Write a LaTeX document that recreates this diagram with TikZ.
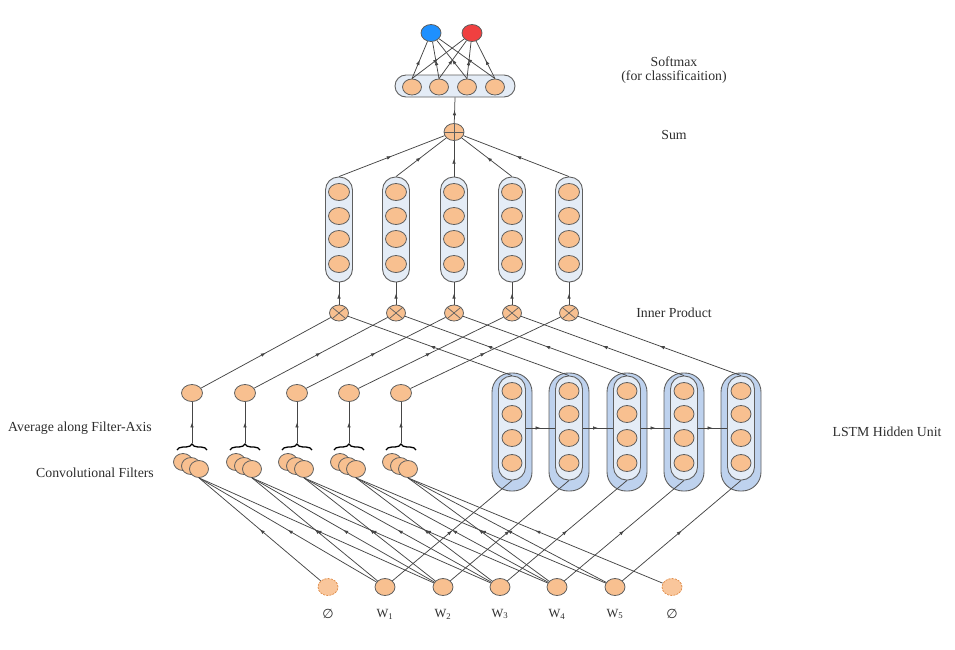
\documentclass[tikz,border=0pt]{standalone}
\usepackage{fontspec}
\setmainfont{Liberation Serif}
\newfontfamily\symfont{DejaVu Sans}
\usetikzlibrary{shapes.geometric,arrows.meta,decorations.markings,decorations.pathreplacing}

\definecolor{unitfill}{RGB}{248,192,144}
\definecolor{unitline}{RGB}{95,95,95}
\definecolor{emptyline}{RGB}{225,145,80}
\definecolor{pillfill}{RGB}{228,236,246}
\definecolor{lstmfill}{RGB}{190,210,238}
\definecolor{outblue}{RGB}{30,144,255}
\definecolor{outred}{RGB}{240,64,64}
\definecolor{linkgray}{RGB}{70,70,70}
\definecolor{labelgray}{RGB}{45,45,45}

\tikzset{
  unit/.style={ellipse,draw=unitline,fill=unitfill,line width=0.8pt,
    minimum width=20pt,minimum height=17pt,inner sep=0pt},
  emptyword/.style={draw=emptyline,dash pattern=on 2pt off 1.2pt,fill=unitfill!90},
  pill/.style={rectangle,draw=unitline,fill=pillfill,line width=0.9pt,inner sep=0pt},
  times/.style={path picture={\draw[unitline,line width=0.7pt]
    (path picture bounding box.north west) -- (path picture bounding box.south east)
    (path picture bounding box.north east) -- (path picture bounding box.south west);}},
  plus/.style={path picture={\draw[unitline,line width=0.7pt]
    (path picture bounding box.north) -- (path picture bounding box.south)
    (path picture bounding box.west) -- (path picture bounding box.east);}},
  curly/.style={decorate,decoration={brace,amplitude=6pt},line width=1.3pt},
  lbl/.style={text=labelgray,font=\fontsize{13.8}{14}\selectfont,inner sep=0pt},
  midarrow/.style={postaction={decorate},decoration={markings,
    mark=at position .5 with {\arrow{Latex[length=5pt,width=3.6pt]}}}}
}

\begin{document}
\begin{tikzpicture}[x=1pt,y=-1pt]

\useasboundingbox (0,0) rectangle (955,649);

% softmax layer and outputs
\node[pill,minimum width=120pt,minimum height=22pt,rounded corners=11pt] (smx) at (455,86) {};
\begin{scope}[every node/.style={unit,minimum width=19pt,minimum height=16pt}]
  \node (s1) at (412,87) {};
  \node (s2) at (439,87) {};
  \node (s3) at (467,87) {};
  \node (s4) at (495,87) {};
  \node[fill=outblue,minimum width=20pt,minimum height=17pt] (o1) at (431,33) {};
  \node[fill=outred,minimum width=20pt,minimum height=17pt]  (o2) at (472,33) {};
\end{scope}

% sum
\node[unit,plus] (sum) at (454,132) {};

% columns and inner products
\foreach \x [count=\i] in {339,396,454,512,569} {
  \node[pill,minimum width=27pt,minimum height=105pt,rounded corners=13pt] (col\i) at (\x,229.5) {};
  \foreach \y in {192,216,239,264}
    \node[unit,minimum width=21pt] at (\x,\y) {};
  \node[unit,times,minimum width=19pt,minimum height=16pt] (op\i) at (\x,313) {};
}

% averages, braces and filters
\foreach \x [count=\i] in {192,245,297,349,401} {
  \node[unit,minimum width=21pt] (avg\i) at (\x,393) {};
  \draw[curly] (\x-15,450) -- (\x+15,450);
  \coordinate (tip\i) at (\x,443);
  \node[unit,minimum width=19pt] at (\x-9,462) {};
  \node[unit,minimum width=19pt] at (\x-1,466) {};
  \node[unit,minimum width=19pt] (flt\i) at (\x+7,469) {};
}

% LSTM hidden units
\foreach \x [count=\i] in {512,569,627,684,741} {
  \node[pill,fill=lstmfill,minimum width=40pt,minimum height=118pt,rounded corners=19pt] (lout\i) at (\x,432) {};
  \node[pill,minimum width=27pt,minimum height=104pt,rounded corners=13pt] (lin\i) at (\x,428) {};
  \foreach \y in {391,414,438,463}
    \node[unit] at (\x,\y) {};
}

% words
\begin{scope}[every node/.style={unit}]
  \node[emptyword] (w0) at (328,587) {};
  \node (w1) at (385,587) {};
  \node (w2) at (443,587) {};
  \node (w3) at (500,587) {};
  \node (w4) at (557,587) {};
  \node (w5) at (615,587) {};
  \node[emptyword] (w6) at (672,587) {};
\end{scope}

\begin{scope}[every node/.style={lbl,font=\fontsize{12.5}{12.5}\selectfont}]
  \node (t0) at (328,614) {\symfont\fontsize{13}{13}\selectfont ∅};
  \node (t1) at (385,614) {W\textsubscript{1}};
  \node (t2) at (443,614) {W\textsubscript{2}};
  \node (t3) at (500,614) {W\textsubscript{3}};
  \node (t4) at (557,614) {W\textsubscript{4}};
  \node (t5) at (615,614) {W\textsubscript{5}};
  \node (t6) at (672,614) {\symfont\fontsize{13}{13}\selectfont ∅};
\end{scope}

% connections
\begin{scope}[every edge/.style={draw=linkgray,line width=0.75pt,midarrow}]
  \foreach \i in {1,...,4}
    \path (s\i.north) edge (o1) (s\i.north) edge (o2);
  \path (sum) edge (smx.south);
  \foreach \i in {1,...,5}
    \path (col\i.north) edge (sum)
          (op\i) edge (col\i)
          (avg\i) edge (op\i)
          (lin\i.north) edge (op\i)
          (tip\i) edge (avg\i)
          (w\i) edge (lin\i.south);
  \foreach \i [evaluate=\i as \j using int(\i+1)] in {1,...,4}
    \path (lin\i.east) edge (lin\j.west);
  \foreach \i [evaluate=\i as \h using int(\i-1),evaluate=\i as \j using int(\i+1)] in {1,...,5}
    \path (w\h) edge (flt\i.south)
          (w\i) edge (flt\i.south)
          (w\j) edge (flt\i.south);
\end{scope}

% labels
\node[lbl,align=center] (smxlbl) at (674,70) {Softmax\\(for classificaition)};
\node[lbl] (sumlbl) at (674,135) {Sum};
\node[lbl] (oplbl) at (674,313) {Inner Product};
\node[lbl] (lstmlbl) at (887,432) {LSTM Hidden Unit};
\node[lbl] (avglbl) at (80,428) {Average along Filter-Axis};
\node[lbl] (fltlbl) at (95,473) {Convolutional Filters};

\end{tikzpicture}
\end{document}
